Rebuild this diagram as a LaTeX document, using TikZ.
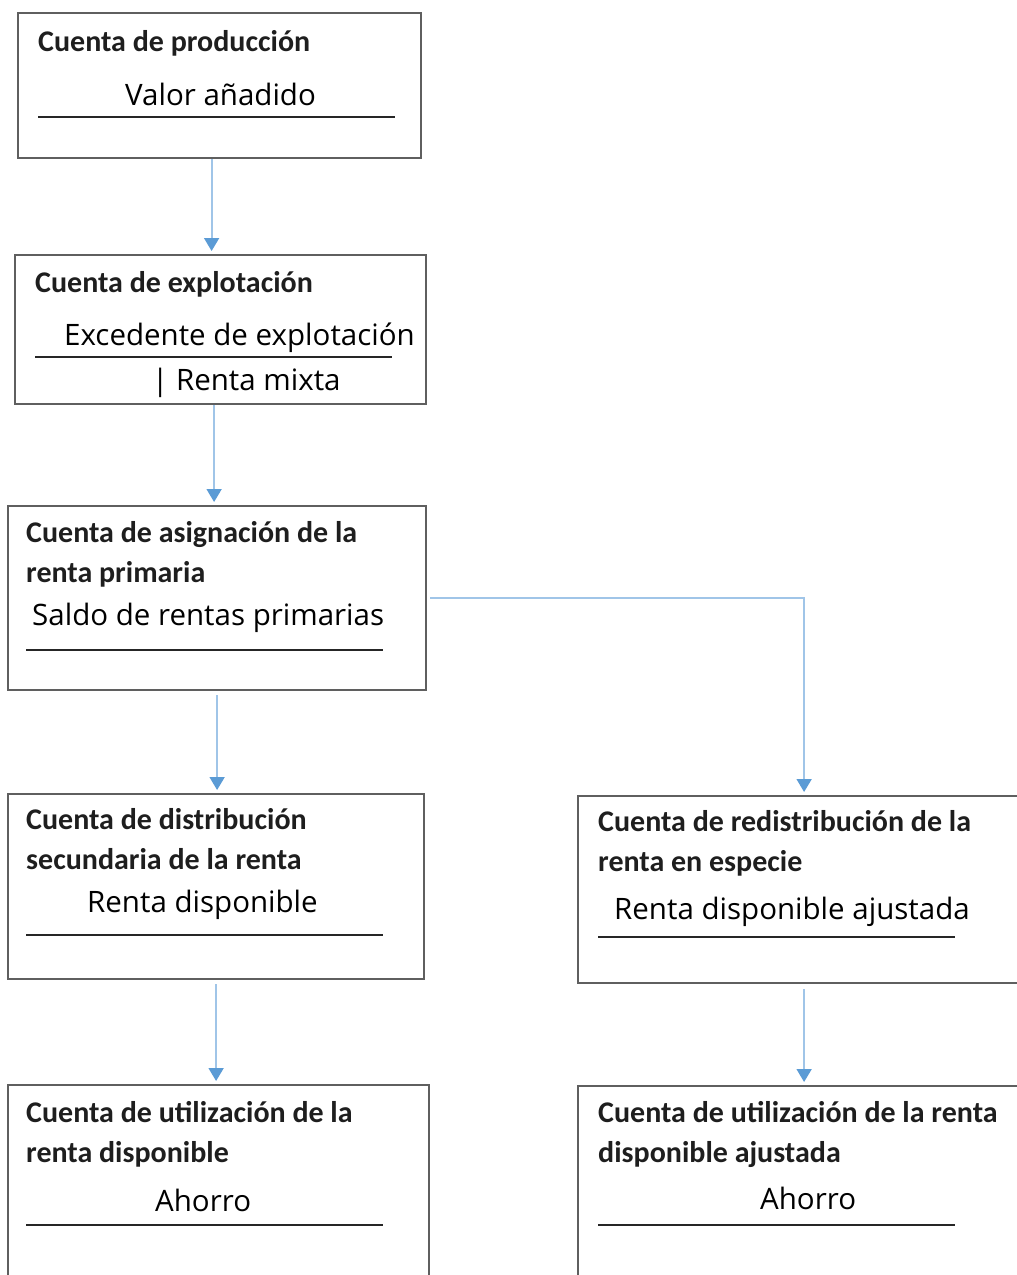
\documentclass[tikz,border=0pt]{standalone}
\usepackage{fontspec}
\setmainfont{Open Sans}
\newfontfamily\titlefont{Carlito}
\usetikzlibrary{arrows.meta}
\definecolor{boxgray}{RGB}{95,95,95}
\definecolor{flowline}{RGB}{160,197,232}
\definecolor{flowtip}{RGB}{91,155,213}
\definecolor{titleink}{RGB}{30,30,30}
\tikzset{
  account/.style={draw=boxgray, line width=2.2pt, anchor=north west, inner sep=0pt},
  flow/.style={draw=flowline, line width=1.8pt, -{Triangle[length=13pt,width=15pt,color=flowtip]}, shorten >=3pt},
  acctitle/.style={anchor=base west, inner sep=0pt, align=left, text=titleink, font=\titlefont\bfseries\fontsize{30}{40}\selectfont},
  balance/.style={anchor=base west, inner sep=0pt, font=\fontsize{29.5}{33}\selectfont},
  saldorule/.style={line width=2pt, black!85}
}
\begin{document}
\begin{tikzpicture}[x=1pt,y=1pt,yscale=-1,xscale=1]
\clip (0,0) rectangle (1017,1275);
%Boxes
\node[account, minimum width=403, minimum height=145] (prod) at (17,12) {};
\node[account, minimum width=411, minimum height=149] (expl) at (14,254) {};
\node[account, minimum width=418, minimum height=184] (asig) at (7,505) {};
\node[account, minimum width=416, minimum height=185] (dist) at (7,793) {};
\node[account, minimum width=452, minimum height=187] (redis) at (577,795) {};
\node[account, minimum width=421, minimum height=220] (util) at (7,1084) {};
\node[account, minimum width=452, minimum height=220] (utiladj) at (577,1085) {};
% Text Node
\node[acctitle] (prodT) at (38,51) {Cuenta de producción};
\node[balance] (prodS) at (125,105) {Valor añadido};
\draw[saldorule] (38,117) -- (395,117);
% Text Node
\node[acctitle] (explT) at (35,292) {Cuenta de explotación};
\node[balance] (explS) at (64,345) {Excedente de explotación};
\draw[saldorule] (35,357) -- (392,357);
\node[balance] (explM) at (152,390) {| Renta mixta};
% Text Node
\node[acctitle] (asigT) at (26,582) {Cuenta de asignación de la\\renta primaria};
\node[balance] (asigS) at (32,625) {Saldo de rentas primarias};
\draw[saldorule] (26,650) -- (383,650);
% Text Node
\node[acctitle] (distT) at (26,869) {Cuenta de distribución\\secundaria de la renta};
\node[balance] (distS) at (87,912) {Renta disponible};
\draw[saldorule] (26,935) -- (383,935);
% Text Node
\node[acctitle] (redisT) at (598,871) {Cuenta de redistribución de la\\renta en especie};
\node[balance] (redisS) at (614,919) {Renta disponible ajustada};
\draw[saldorule] (598,937) -- (955,937);
% Text Node
\node[acctitle] (utilT) at (26,1162) {Cuenta de utilización de la\\renta disponible};
\node[balance] (utilS) at (155,1211) {Ahorro};
\draw[saldorule] (26,1225) -- (383,1225);
% Text Node
\node[acctitle] (utiladjT) at (598,1162) {Cuenta de utilización de la renta\\disponible ajustada};
\node[balance] (utiladjS) at (760,1209) {Ahorro};
\draw[saldorule] (598,1225) -- (955,1225);
%Arrows
\draw[flow] ([xshift=-8pt]prod.south) -- ([xshift=-8pt]prod.south |- expl.north);
\draw[flow] ([xshift=-6.5pt]expl.south) -- ([xshift=-6.5pt]expl.south |- asig.north);
\draw[flow, shorten <=4pt] (asig.south) -- (asig.south |- dist.north);
\draw[flow] ([xshift=3pt]asig.east) -| (redis.north);
\draw[flow, shorten <=4pt] (dist.south) -- (dist.south |- util.north);
\draw[flow, shorten <=5pt] (redis.south) -- (utiladj.north);
\end{tikzpicture}
\end{document}
